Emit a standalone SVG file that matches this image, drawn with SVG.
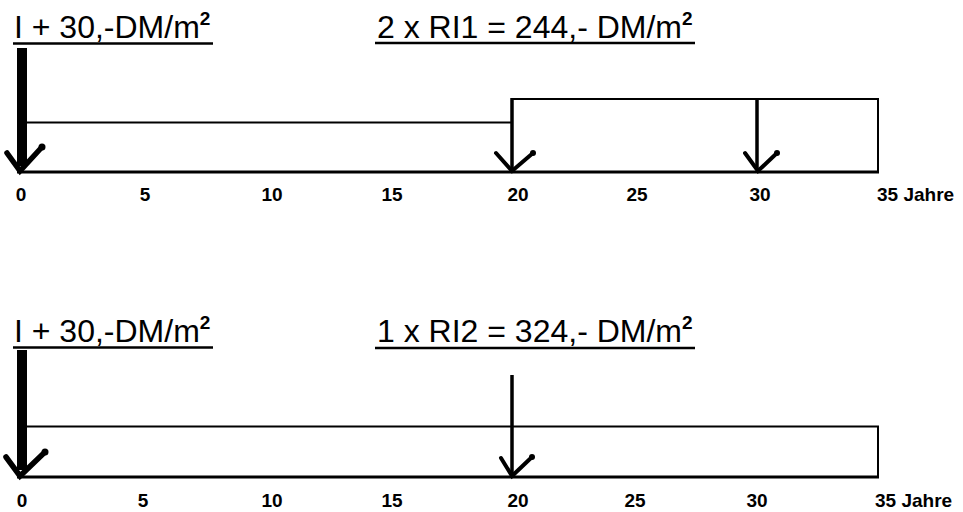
<svg xmlns="http://www.w3.org/2000/svg" width="963" height="512" viewBox="0 0 963 512">
<style>
.title{font-family:"Liberation Sans",Arial,sans-serif;font-size:32px;fill:#000}
.sup{font-size:19px;font-weight:bold}
.ax{font-family:"Liberation Sans",Arial,sans-serif;font-size:19px;font-weight:bold;fill:#000}
.ul{stroke:#000;stroke-width:2.5;fill:none}
.ln{stroke:#000;stroke-width:2;fill:none}
.base{stroke:#000;stroke-width:3;fill:none}
.shaft{stroke:#000;stroke-width:3.5;fill:none}
.head{stroke:#000;stroke-width:4;fill:none;stroke-linecap:round;stroke-linejoin:miter}
.headb{stroke:#000;stroke-width:5.5;fill:none;stroke-linecap:round;stroke-linejoin:miter}
</style>
<rect width="963" height="512" fill="#fff"/>

<!-- top diagram -->
<g id="title-top-left">
<text class="title" x="14" y="38">I + 30,-DM/m<tspan class="sup" dy="-13">2</tspan></text>
<line class="ul" x1="13" y1="43.5" x2="213" y2="43.5"/>
</g>
<g id="title-top-right">
<text class="title" x="377" y="38">2 x RI1 = 244,- DM/m<tspan class="sup" dy="-13">2</tspan></text>
<line class="ul" x1="375" y1="43" x2="695" y2="43"/>
</g>
<g id="timeline-top">
<line class="ln" x1="27" y1="122.5" x2="512" y2="122.5"/>
<polyline class="ln" points="512,99 878,99 878,172"/>
<line class="base" x1="17" y1="172" x2="879" y2="172"/>
</g>
<g id="axis-top" class="ax" text-anchor="middle">
<text x="21" y="201">0</text>
<text x="145" y="201">5</text>
<text x="272" y="201">10</text>
<text x="392" y="201">15</text>
<text x="518" y="201">20</text>
<text x="637" y="201">25</text>
<text x="760" y="201">30</text>
<text x="877" y="201" text-anchor="start">35 Jahre</text>
</g>

<!-- bottom diagram -->
<g id="title-bottom-left">
<text class="title" x="14" y="342">I + 30,-DM/m<tspan class="sup" dy="-13">2</tspan></text>
<line class="ul" x1="13" y1="347.5" x2="213" y2="347.5"/>
</g>
<g id="title-bottom-right">
<text class="title" x="377" y="342">1 x RI2 = 324,- DM/m<tspan class="sup" dy="-13">2</tspan></text>
<line class="ul" x1="375" y1="348" x2="695" y2="348"/>
</g>
<g id="timeline-bottom">
<polyline class="ln" points="27,426.5 878,426.5 878,477"/>
<line class="base" x1="17" y1="477" x2="879" y2="477"/>
</g>
<g id="axis-bottom" class="ax" text-anchor="middle">
<text x="22" y="507">0</text>
<text x="143" y="507">5</text>
<text x="272" y="507">10</text>
<text x="392" y="507">15</text>
<text x="518" y="507">20</text>
<text x="635" y="507">25</text>
<text x="757" y="507">30</text>
<text x="875" y="507" text-anchor="start">35 Jahre</text>
</g>

<!-- connectors / arrows -->
<g id="connectors">
<rect x="17" y="48" width="10" height="118" fill="#000"/>
<polyline class="headb" points="7,153 20,171 42,147"/>
<circle cx="42" cy="147" r="3.5" fill="#000"/>

<line class="shaft" x1="512" y1="98" x2="512" y2="170"/>
<polyline class="head" points="496,153 512,171 533,153"/>
<circle cx="533" cy="153" r="3" fill="#000"/>

<line class="shaft" x1="757" y1="98" x2="757" y2="170"/>
<polyline class="head" points="745,153 758,171 777,153"/>
<circle cx="777" cy="153" r="3" fill="#000"/>

<rect x="17" y="350" width="10" height="120" fill="#000"/>
<polyline class="headb" points="6,457 20,476 45,452"/>
<circle cx="45" cy="452" r="3.5" fill="#000"/>

<line class="shaft" x1="512" y1="375" x2="512" y2="475"/>
<polyline class="head" points="501,458 512,476 532,457"/>
<circle cx="532" cy="457" r="3" fill="#000"/>
</g>
</svg>
